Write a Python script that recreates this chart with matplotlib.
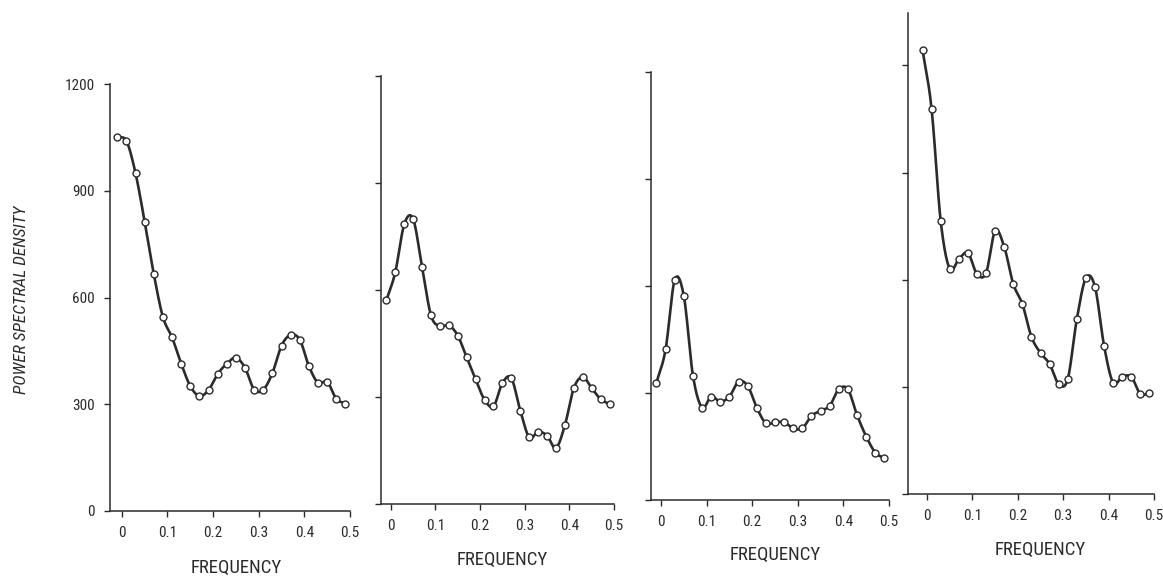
import numpy as np
import matplotlib.pyplot as plt

# frequency grid of the estimates (same for all four spectra)
freq = [-0.01, 0.01, 0.03, 0.05, 0.07, 0.09, 0.11, 0.13, 0.15, 0.17, 0.19, 0.21, 0.23,
        0.25, 0.27, 0.29, 0.31, 0.33, 0.35, 0.37, 0.39, 0.41, 0.43, 0.45, 0.47, 0.49]

psd_a = [1050, 1040, 949, 813, 666, 545, 488, 414, 351, 323, 340, 385, 414,
         431, 402, 341, 341, 388, 465, 495, 481, 407, 360, 363, 315, 302]
psd_b = [571, 650, 784, 799, 664, 529, 498, 501, 472, 411, 350, 292, 274,
         339, 353, 262, 187, 202, 192, 157, 221, 325, 356, 325, 294, 280]
psd_c = [329, 422, 617, 572, 349, 259, 290, 276, 290, 332, 320, 259, 215,
         218, 218, 201, 201, 236, 250, 264, 311, 310, 238, 178, 133, 117]
psd_d = [1244, 1078, 765, 630, 658, 675, 616, 619, 737, 692, 588, 532, 440,
         395, 364, 308, 322, 490, 605, 580, 415, 311, 328, 328, 280, 283]

x_ticks = [0, 0.1, 0.2, 0.3, 0.4, 0.5]
x_labels = ['0', '0.1', '0.2', '0.3', '0.4', '0.5']
y_ticks = [0, 300, 600, 900, 1200]
y_labels = ['0', '300', '600', '900', '1200']

FONT = ['Roboto Condensed', 'DejaVu Sans']
TXT = dict(fontfamily=FONT, fontstretch='condensed', fontweight='normal')
INK = '#2b2b2b'
W, H = 1163, 580


def smooth(x, y, n=12):
    """Catmull-Rom curve through the points, for drawing the line only."""
    x = np.asarray(x, float)
    y = np.asarray(y, float)
    xp = np.concatenate([[2 * x[0] - x[1]], x, [2 * x[-1] - x[-2]]])
    yp = np.concatenate([[2 * y[0] - y[1]], y, [2 * y[-1] - y[-2]]])
    t = np.linspace(0, 1, n, endpoint=False)
    xs, ys = [], []
    for i in range(1, len(xp) - 2):
        for arr, out in ((xp, xs), (yp, ys)):
            p0, p1, p2, p3 = arr[i - 1:i + 3]
            out.append(0.5 * (2 * p1 + (-p0 + p2) * t + (2 * p0 - 5 * p1 + 4 * p2 - p3) * t ** 2
                              + (-p0 + 3 * p1 - 3 * p2 + p3) * t ** 3))
    xs.append([x[-1]])
    ys.append([y[-1]])
    return np.concatenate(xs), np.concatenate(ys)


def panel(fig, left, right, bottom, top, xlim, ylim, psd, show_ylabels, flabel_y):
    # positions given in image pixels (y measured from the top)
    ax = fig.add_axes([left / W, 1 - bottom / H, (right - left) / W, (bottom - top) / H])
    sx, sy = smooth(freq, psd)
    ax.plot(sx, sy, color=INK, lw=1.9, zorder=2)
    ax.plot(freq, psd, 'o', ms=5, mfc='white', mec=INK, mew=1.0, zorder=3)
    ax.set_xlim(*xlim)
    ax.set_ylim(*ylim)
    for s in ('top', 'right'):
        ax.spines[s].set_visible(False)
    for s in ('left', 'bottom'):
        ax.spines[s].set_color(INK)
        ax.spines[s].set_linewidth(1.1)
    ax.set_xticks(x_ticks)
    ax.set_xticklabels(x_labels, fontsize=11, color=INK, **TXT)
    ax.set_yticks(y_ticks)
    if show_ylabels:
        ax.set_yticklabels(y_labels, fontsize=11, color=INK, **TXT)
    else:
        ax.set_yticklabels([])
    ax.tick_params(direction='out', length=4, width=1.0, color=INK, pad=7)
    ax.set_facecolor('none')
    # FREQUENCY label centred under the axis
    cx = left + (0.25 - xlim[0]) / (xlim[1] - xlim[0]) * (right - left)
    fig.text(cx / W, 1 - flabel_y / H, 'FREQUENCY', ha='center', va='center',
             fontsize=13.5, color=INK, **TXT)
    return ax


fig = plt.figure(figsize=(W / 100, H / 100), dpi=100)
fig.patch.set_facecolor('white')

panel(fig, 110, 350, 511, 84, (-0.026, 0.5), (0, 1200), psd_a, True, 568)
panel(fig, 381, 614, 504, 76, (-0.022, 0.5), (0, 1200), psd_b, False, 560)
panel(fig, 651, 889, 500, 72, (-0.022, 0.5), (0, 1200), psd_c, False, 555)
panel(fig, 908, 1154, 494, 13, (-0.042, 0.5), (0, 1347), psd_d, False, 550)

fig.text(22 / W, 1 - 300 / H, 'POWER SPECTRAL DENSITY', rotation=90, ha='center', va='center',
         fontsize=12.5, fontstyle='italic', color=INK, **TXT)

fig.savefig('out.png', dpi=100)
